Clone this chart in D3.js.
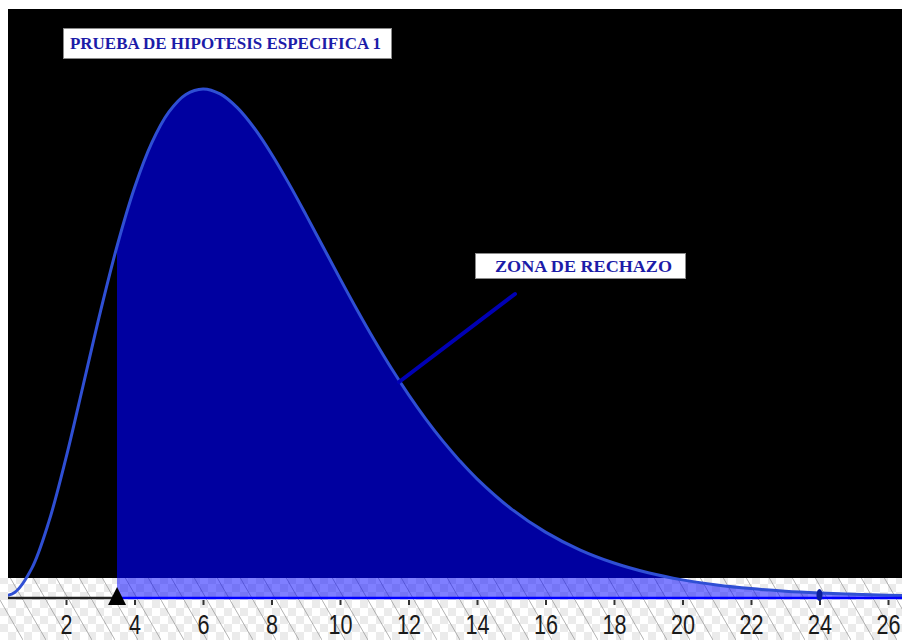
<!DOCTYPE html>
<html>
<head>
<meta charset="utf-8">
<script src="https://cdn.jsdelivr.net/npm/d3@7"></script>
<style>
  html, body { margin: 0; padding: 0; background: #fff; }
  svg { display: block; }
</style>
</head>
<body>
<svg id="chart" width="902" height="640"></svg>
<script>
// Chi-square density (8 degrees of freedom), sampled along the horizontal axis
const chiX = [0, 0.5, 1, 1.5, 2, 2.5, 3, 3.5, 4, 4.5, 5, 5.5, 6, 6.5, 7, 7.5, 8, 8.5, 9, 9.5,
  10, 10.5, 11, 11.5, 12, 12.5, 13, 13.5, 14, 15, 16, 17, 18, 19, 20, 21, 22, 23, 24, 25, 26, 27];
const chiDensity = [0, 0.00101, 0.00632, 0.01661, 0.03066, 0.04663, 0.06276, 0.07761, 0.09022,
  0.10005, 0.10688, 0.11079, 0.11202, 0.11092, 0.10789, 0.10335, 0.09768, 0.09125, 0.08436,
  0.07727, 0.07019, 0.06328, 0.05666, 0.05042, 0.04462, 0.03928, 0.03441, 0.03001, 0.02606,
  0.01944, 0.01431, 0.01041, 0.00750, 0.00535, 0.00378, 0.00266, 0.00185, 0.00128, 0.00089,
  0.00061, 0.00041, 0.00028];
const tickValues = [2, 4, 6, 8, 10, 12, 14, 16, 18, 20, 22, 24, 26];
const criticalValue = 3.49;
const markedValue = 24;
const titleText = "PRUEBA DE HIPOTESIS ESPECIFICA 1";
const zoneText = "ZONA DE RECHAZO";

const W = 902, H = 640;
const plotLeft = 8, plotTop = 9, blackBottom = 578, baseY = 597;

const svg = d3.select("#chart");
const defs = svg.append("defs");

// transparent-background checkerboard with faint diagonal hatching
const pat = defs.append("pattern")
  .attr("id", "checker").attr("patternUnits", "userSpaceOnUse")
  .attr("width", 16).attr("height", 16);
pat.append("rect").attr("width", 16).attr("height", 16).attr("fill", "#ffffff");
pat.append("rect").attr("width", 8).attr("height", 8).attr("fill", "#ebebeb");
pat.append("rect").attr("x", 8).attr("y", 8).attr("width", 8).attr("height", 8).attr("fill", "#ebebeb");

const hatch = defs.append("pattern")
  .attr("id", "hatch").attr("patternUnits", "userSpaceOnUse")
  .attr("width", 23).attr("height", 40);
hatch.append("line").attr("x1", 0).attr("y1", 0).attr("x2", 23).attr("y2", 40)
  .attr("stroke", "#8c8c8c").attr("stroke-width", 0.9).attr("opacity", 0.75);

const x = d3.scaleLinear().domain([2, 26]).range([66, 888]);
const y = d3.scaleLinear().domain([0, 0.112]).range([baseY, 89]);

// backgrounds
svg.append("rect").attr("x", 0).attr("y", blackBottom).attr("width", W).attr("height", H - blackBottom)
  .attr("fill", "url(#checker)");
svg.append("rect").attr("x", 0).attr("y", blackBottom).attr("width", W).attr("height", H - blackBottom)
  .attr("fill", "url(#hatch)");
svg.append("rect").attr("x", plotLeft).attr("y", plotTop).attr("width", W - plotLeft)
  .attr("height", blackBottom - plotTop).attr("fill", "#000");

const pts = chiX.map((v, i) => [v, chiDensity[i]]);

defs.append("clipPath").attr("id", "clipTop").append("rect")
  .attr("x", x(criticalValue)).attr("y", 0)
  .attr("width", W - x(criticalValue)).attr("height", blackBottom);
defs.append("clipPath").attr("id", "clipBottom").append("rect")
  .attr("x", x(criticalValue)).attr("y", blackBottom)
  .attr("width", W - x(criticalValue)).attr("height", H - blackBottom);
defs.append("clipPath").attr("id", "clipPlot").append("rect")
  .attr("x", plotLeft).attr("y", 0).attr("width", W - plotLeft).attr("height", H);

const area = d3.area()
  .x(d => x(d[0])).y0(y(0)).y1(d => y(d[1]))
  .curve(d3.curveCatmullRom);
const line = d3.line()
  .x(d => x(d[0])).y(d => y(d[1]))
  .curve(d3.curveCatmullRom);

// rejection region
svg.append("path").datum(pts).attr("d", area)
  .attr("fill", "#0000a0").attr("clip-path", "url(#clipTop)");
svg.append("path").datum(pts).attr("d", area)
  .attr("fill", "#0000ff").attr("fill-opacity", 0.5).attr("clip-path", "url(#clipBottom)");

// density curve
svg.append("path").datum(pts).attr("d", line)
  .attr("fill", "none").attr("stroke", "#2f4fd4").attr("stroke-width", 3)
  .attr("clip-path", "url(#clipPlot)");

// horizontal axis
const axisG = svg.append("g").attr("transform", `translate(0,${baseY + 1})`);
axisG.call(d3.axisBottom(x).tickValues(tickValues).tickSize(6).tickSizeOuter(0).tickFormat(d3.format("d")));
axisG.select(".domain").remove();
axisG.selectAll(".tick line").attr("stroke", "#333").attr("stroke-width", 2).attr("y1", 2).attr("y2", 7);
axisG.selectAll(".tick text")
  .attr("y", 0).attr("dy", null)
  .attr("transform", "translate(0,36) scale(0.8,1)")
  .attr("font-family", "Liberation Sans, Arial, sans-serif")
  .attr("font-size", 27).attr("fill", "#1a1a1a").attr("text-anchor", "middle");

svg.append("line").attr("x1", plotLeft).attr("x2", x(criticalValue))
  .attr("y1", baseY + 1).attr("y2", baseY + 1).attr("stroke", "#222").attr("stroke-width", 2.5);
svg.append("line").attr("x1", x(criticalValue)).attr("x2", W)
  .attr("y1", baseY + 1).attr("y2", baseY + 1).attr("stroke", "#0000ff").attr("stroke-width", 2.5);

// critical value marker
const cx = x(criticalValue);
svg.append("path")
  .attr("d", `M${cx - 9},${baseY + 8} L${cx},${baseY - 10} L${cx + 9},${baseY + 8} Z`)
  .attr("fill", "#000");

// point marker on the axis
svg.append("ellipse").attr("cx", x(markedValue)).attr("cy", baseY - 2)
  .attr("rx", 3).attr("ry", 6).attr("fill", "#0a1e9a");

// title box
svg.append("rect").attr("x", 63.5).attr("y", 28.5).attr("width", 328).attr("height", 30)
  .attr("fill", "#fff").attr("stroke", "#8a8a8a").attr("stroke-width", 1);
svg.append("text").attr("x", 70).attr("y", 49)
  .attr("textLength", 311).attr("lengthAdjust", "spacingAndGlyphs")
  .attr("font-family", "Liberation Serif, DejaVu Serif, serif").attr("font-weight", "bold")
  .attr("font-size", 16).attr("fill", "#1c1ca8").text(titleText);

// rejection zone label and pointer
svg.append("line").attr("x1", 515).attr("y1", 294).attr("x2", 399).attr("y2", 382)
  .attr("stroke", "#0000b4").attr("stroke-width", 4).attr("stroke-linecap", "round");
svg.append("rect").attr("x", 475.5).attr("y", 253.5).attr("width", 210).attr("height", 25)
  .attr("fill", "#fff").attr("stroke", "#8a8a8a").attr("stroke-width", 1);
svg.append("text").attr("x", 495).attr("y", 272)
  .attr("textLength", 177).attr("lengthAdjust", "spacingAndGlyphs")
  .attr("font-family", "Liberation Serif, DejaVu Serif, serif").attr("font-weight", "bold")
  .attr("font-size", 16).attr("fill", "#1c1ca8").text(zoneText);
</script>
</body>
</html>
